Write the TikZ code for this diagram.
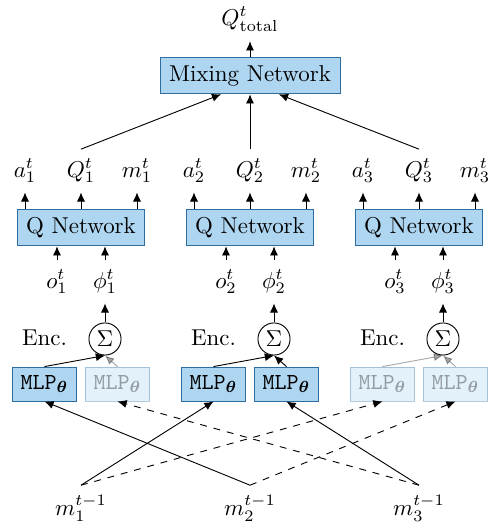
\documentclass[tikz,border=0pt]{standalone}
\usepackage{amsmath}
\usetikzlibrary{arrows.meta}

\definecolor{netfill}{HTML}{AED6F1}
\definecolor{netdraw}{HTML}{2E6DA0}

\begin{document}
\begin{tikzpicture}[
        x=0.436pt, y=-0.436pt,
        >={Latex[length=4pt,width=3.5pt]},
        net/.style={draw=netdraw, fill=netfill, minimum height=16pt},
        mlp/.style={draw=netdraw, fill=netfill, minimum width=28.3pt, minimum height=14.8pt, inner sep=0pt},
        lit/.style={},
        faded/.style={opacity=0.35},
        sum/.style={draw, circle, minimum size=14pt, inner sep=0pt},
        msg/.style={anchor=base, inner sep=4pt},
    ]
    \useasboundingbox (0,0) rectangle (496,523);

    % mixer on top
    \node[msg] (qtot) at (250,25) {$Q^t_{\text{total}}$};
    \node[net, minimum width=78.5pt] (mix) at (250,75.5) {Mixing Network};
    \draw[->] (mix) -- (qtot);

    % one column per agent
    \foreach \i/\x/\fa/\fb in {1/81/lit/faded, 2/250/lit/lit, 3/419/faded/faded}{
        \node[net, minimum width=55.4pt] (qn\i) at (\x,227.5) {Q Network};
        \node[msg] (a\i) at (\x-56,177) {$a^t_\i$};
        \node[msg] (q\i) at (\x,177) {$Q^t_\i$};
        \node[msg] (m\i) at (\x+56,177) {$m^t_\i$};
        \node[msg] (o\i) at (\x-24,288) {$o^t_\i$};
        \node[msg] (phi\i) at (\x+24,288) {$\phi^t_\i$};
        \node[sum] (sig\i) at (\x+24,339) {$\Sigma$};
        \node[msg] (enc\i) at (\x-36.5,345) {Enc.};
        \node[mlp, \fa] (mlpa\i) at (\x-36.5,384) {\texttt{MLP}$_{\boldsymbol{\theta}}$};
        \node[mlp, \fb] (mlpb\i) at (\x+36.5,384) {\texttt{MLP}$_{\boldsymbol{\theta}}$};
        \node[msg] (prev\i) at (\x,515) {$m^{t-1}_\i$};

        \foreach \out in {a\i, q\i, m\i}
            \draw[->] (qn\i.north -| \out) -- (\out);
        \draw[->] (o\i) -- (qn\i.south -| o\i);
        \draw[->] (phi\i) -- (qn\i.south -| phi\i);
        \draw[->] (sig\i) -- (phi\i);
        \draw[->, \fa] (mlpa\i.north) -- (sig\i.south);
        \draw[->, \fb] (mlpb\i.north) -- (sig\i.south);
    }

    % Q values into the mixer
    \draw[->] (q1.north) -- ([xshift=-12.6pt]mix.south);
    \draw[->] (q2.north) -- (mix.south);
    \draw[->] (q3.north) -- ([xshift=12.6pt]mix.south);

    % messages from the last step
    \draw[->] (prev2.north) -- (mlpa1.south);
    \draw[->, dashed] (prev3.north) -- (mlpb1.south);
    \draw[->] (prev1.north) -- (mlpa2.south);
    \draw[->] (prev3.north) -- (mlpb2.south);
    \draw[->, dashed] (prev1.north) -- (mlpa3.south);
    \draw[->, dashed] (prev2.north) -- (mlpb3.south);
\end{tikzpicture}
\end{document}
